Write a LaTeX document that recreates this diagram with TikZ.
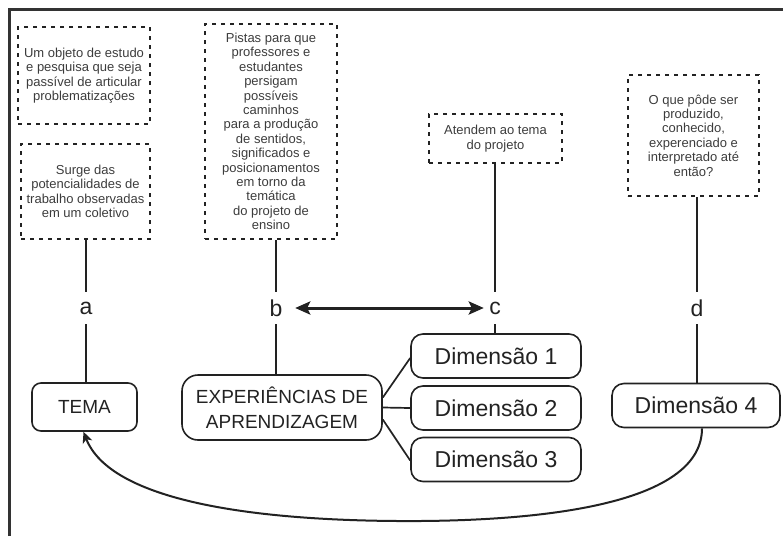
\documentclass[tikz,border=0pt]{standalone}
\usepackage{fontspec}
\setmainfont{Liberation Sans}
\usetikzlibrary{arrows.meta,calc}
\definecolor{ink}{HTML}{222222}
\definecolor{note}{HTML}{3C3C3C}
\tikzset{
  notebox/.style={draw=ink, line width=2.5pt, dash pattern=on 4pt off 5pt, inner sep=0pt,
    align=center, text=note, font=\fontsize{13}{14.4}\selectfont},
  roundbox/.style={draw=ink, line width=1.6pt, rounded corners=#1, inner sep=0pt,
    align=center, text=ink, font=\fontsize{19}{25}\selectfont},
  dimbox/.style={roundbox=12pt, minimum width=170pt, minimum height=44pt, font=\fontsize{23}{26}\selectfont},
  letter/.style={inner sep=0pt, minimum width=20pt, minimum height=32pt, text=ink, font=\fontsize{23}{26}\selectfont},
  link/.style={draw=ink, line width=1.7pt},
}
\begin{document}
\begin{tikzpicture}[x=1pt,y=-1pt]
\useasboundingbox (0,0) rectangle (783,536);
% frame
\draw[line width=3pt, color=black!80] (9,536) -- (9,9) -- (783,9);

% dashed notes
\node[notebox, minimum width=132pt, minimum height=97pt] (n1) at (84,75.5)
  {Um objeto de estudo\\e pesquisa que seja\\passível de articular\\problematizações};
\node[notebox, minimum width=129pt, minimum height=95pt] (n2) at (85.5,191.5)
  {Surge das\\potencialidades de\\trabalho observadas\\em um coletivo};
\node[notebox, minimum width=132pt, minimum height=215pt] (n3) at (271,131.5)
  {Pistas para que\\professores e\\estudantes\\persigam\\possíveis\\caminhos\\para a produção\\de sentidos,\\significados e\\posicionamentos\\em torno da\\temática\\do projeto de\\ensino};
\node[notebox, minimum width=133pt, minimum height=49pt] (n4) at (495.5,138.5)
  {Atendem ao tema\\do projeto};
\node[notebox, minimum width=131pt, minimum height=121pt] (n5) at (693.5,135.5)
  {O que pôde ser\\produzido,\\conhecido,\\experenciado e\\interpretado até\\então?};

% letters
\node[letter] (a) at (86,308) {a};
\node[letter] (b) at (276,308) {b};
\node[letter] (c) at (495,308) {c};
\node[letter] (d) at (697,308) {d};

% rounded boxes
\node[roundbox=9pt, minimum width=105pt, minimum height=48pt] (tema) at (84.5,407) {TEMA};
\node[roundbox=16pt, minimum width=200pt, minimum height=65pt] (exp) at (282,407.5)
  {EXPERIÊNCIAS DE\\APRENDIZAGEM};
\node[dimbox] (dim1) at (496,356) {Dimensão 1};
\node[dimbox] (dim2) at (496,408) {Dimensão 2};
\node[dimbox] (dim3) at (496,459.5) {Dimensão 3};
\node[dimbox, minimum width=168pt] (dim4) at (696,405.5) {Dimensão 4};

% vertical links
\draw[link] (a |- n2.south) -- (a.north);
\draw[link] (a.south) -- (a |- tema.north);
\draw[link] (b |- n3.south) -- (b.north);
\draw[link] (b.south) -- (b |- exp.north);
\draw[link] (c |- n4.south) -- (c.north);
\draw[link] (c.south) -- (c |- dim1.north);
\draw[link] (d |- n5.south) -- (d.north);
\draw[link] (d.south) -- (d |- dim4.north);

% exp to dimensions
\draw[link] ([yshift=10pt]exp.east) -- ([yshift=-2pt]dim1.west);
\draw[link] (exp.east) -- (dim2.west);
\draw[link] ([yshift=-12pt]exp.east) -- ([yshift=-1pt]dim3.west);

% double arrow
\draw[draw=ink, line width=3pt, {Stealth[length=15pt,width=13pt,inset=3pt]}-{Stealth[length=15pt,width=13pt,inset=3pt]},
  shorten <=9pt, shorten >=1pt] (b.east) -- (c.west);

% return curve
\draw[draw=ink, line width=2pt, -{Stealth[length=11pt,width=10pt,inset=3pt]}]
  ([xshift=6pt]dim4.south) .. controls (702,500) and (560,520) .. (420,521)
  .. controls (250,522) and (110,500) .. ([xshift=-1pt]tema.south);
\end{tikzpicture}
\end{document}
